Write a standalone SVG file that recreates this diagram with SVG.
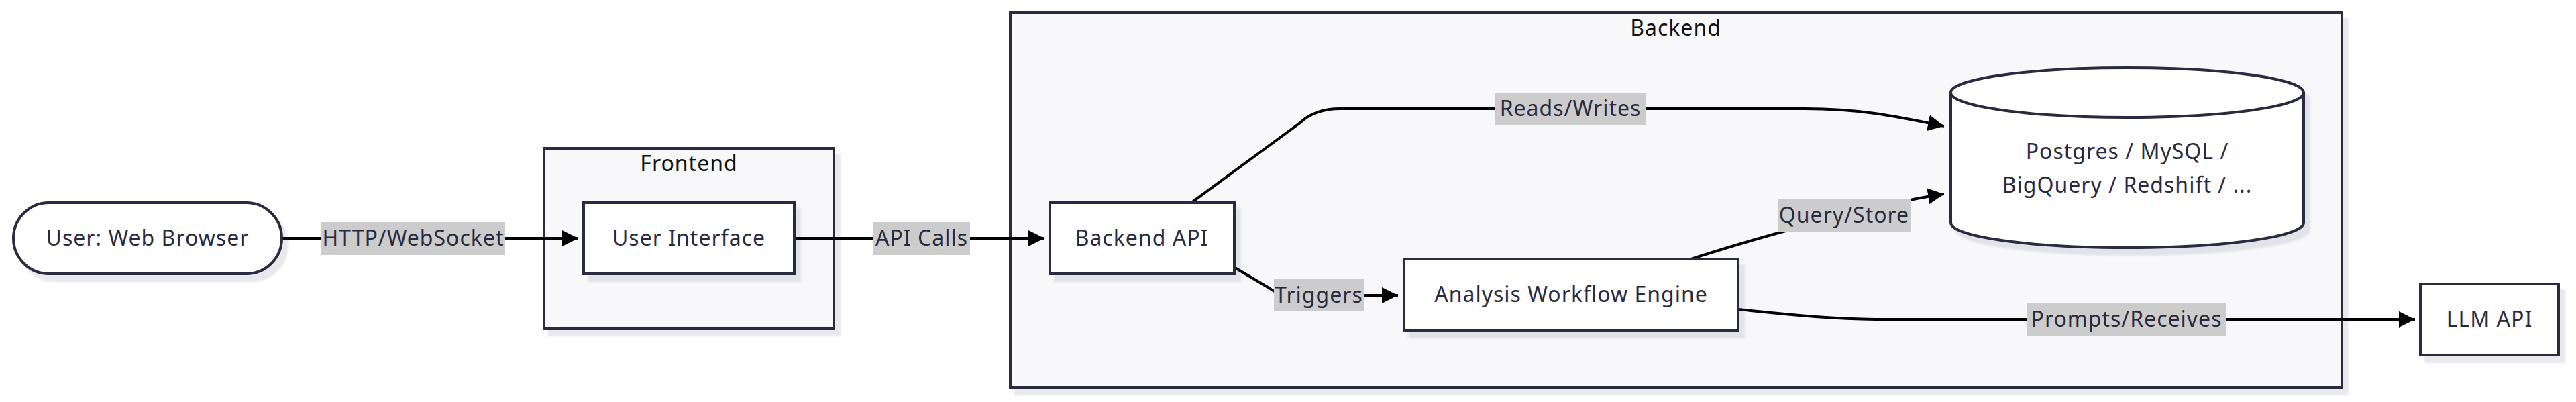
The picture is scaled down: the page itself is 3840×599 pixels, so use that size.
<svg xmlns="http://www.w3.org/2000/svg" width="3840" height="599" viewBox="0 0 3840 599">
  <style>
    .cluster { fill: #f8f8fa; stroke: #2a2a3f; stroke-width: 4; }
    .node { fill: #ffffff; stroke: #2a2a3f; stroke-width: 4; }
    .ctitle { font-family: "Noto Sans", "Open Sans", sans-serif; font-size: 32px; fill: #111111; text-anchor: middle; letter-spacing: 1px; }
    .ntext { font-family: "Noto Sans", "Open Sans", sans-serif; font-size: 32px; fill: #2a2a3f; text-anchor: middle; letter-spacing: 1px; }
    .edge { fill: none; stroke: #000000; stroke-width: 4; }
    .lblbg { fill: #cccccc; }
    .ltext { font-family: "Noto Sans", "Open Sans", sans-serif; font-size: 32px; fill: #2a2a3f; text-anchor: middle; letter-spacing: 1px; }
  </style>
  <defs>
    <filter id="shadow" x="-5%" y="-10%" width="115%" height="130%">
      <feDropShadow dx="8" dy="10" stdDeviation="1.5" flood-color="#1a1a2e" flood-opacity="0.09"/>
    </filter>
    <marker id="arrow" viewBox="0 0 10 10" refX="10" refY="5" markerUnits="userSpaceOnUse" markerWidth="24" markerHeight="29" orient="auto">
      <path d="M0,0 L10,5 L0,10 z" fill="#000000"/>
    </marker>
  </defs>
  <rect width="3840" height="599" fill="#ffffff"/>

  <g id="cluster-frontend">
    <rect class="cluster" x="811" y="221" width="432" height="268" filter="url(#shadow)"/>
    <text class="ctitle" x="1027" y="255">Frontend</text>
  </g>
  <g id="cluster-backend">
    <rect class="cluster" x="1506" y="19" width="1985" height="558" filter="url(#shadow)"/>
    <text class="ctitle" x="2498" y="53">Backend</text>
  </g>

  <g id="connectors">
    <path class="edge" d="M420,355 L862,355" marker-end="url(#arrow)"/>
    <path class="edge" d="M1184,355 L1557,355" marker-end="url(#arrow)"/>
    <path class="edge" d="M1776,302 L1938,183 Q1960,162 1998,162 L2690,162 C2770,162 2820,172 2898,188" marker-end="url(#arrow)"/>
    <path class="edge" d="M1841,399 L1890,428 Q1906,440 1926,440 L2084,440" marker-end="url(#arrow)"/>
    <path class="edge" d="M2521,386 C2600,360 2800,303 2898,289" marker-end="url(#arrow)"/>
    <path class="edge" d="M2591,461 C2660,468 2730,476 2810,476 L3600,476" marker-end="url(#arrow)"/>
    <g id="edge-labels">
      <rect class="lblbg" x="479" y="331" width="274" height="49"/>
      <text class="ltext" x="616" y="366">HTTP/WebSocket</text>
      <rect class="lblbg" x="1302" y="331" width="144" height="49"/>
      <text class="ltext" x="1374" y="366">API Calls</text>
      <rect class="lblbg" x="2229" y="138" width="224" height="49"/>
      <text class="ltext" x="2341" y="173">Reads/Writes</text>
      <rect class="lblbg" x="1899" y="416" width="135" height="48"/>
      <text class="ltext" x="1966" y="451">Triggers</text>
      <rect class="lblbg" x="2650" y="297" width="199" height="48"/>
      <text class="ltext" x="2749" y="332">Query/Store</text>
      <rect class="lblbg" x="3022" y="451" width="296" height="49"/>
      <text class="ltext" x="3170" y="487">Prompts/Receives</text>
    </g>
  </g>

  <g id="node-browser">
    <rect class="node" x="20" y="302" width="400" height="106" rx="53" ry="53" filter="url(#shadow)"/>
    <text class="ntext" x="220" y="366">User: Web Browser</text>
  </g>
  <g id="node-ui">
    <rect class="node" x="870" y="302" width="314" height="106" filter="url(#shadow)"/>
    <text class="ntext" x="1027" y="366">User Interface</text>
  </g>
  <g id="node-backend-api">
    <rect class="node" x="1565" y="302" width="275" height="106" filter="url(#shadow)"/>
    <text class="ntext" x="1702" y="366">Backend API</text>
  </g>
  <g id="node-engine">
    <rect class="node" x="2093" y="386" width="498" height="106" filter="url(#shadow)"/>
    <text class="ntext" x="2342" y="450">Analysis Workflow Engine</text>
  </g>
  <g id="node-db">
    <path class="node" d="M2908,138 A263,37 0 0 1 3434,138 L3434,332 A263,37 0 0 1 2908,332 Z" filter="url(#shadow)"/>
    <path class="node" d="M2908,138 A263,37 0 0 0 3434,138" fill="none"/>
    <text class="ntext" x="3171" y="237">Postgres / MySQL /</text>
    <text class="ntext" x="3171" y="287">BigQuery / Redshift / ...</text>
  </g>
  <g id="node-llm">
    <rect class="node" x="3608" y="423" width="206" height="106" filter="url(#shadow)"/>
    <text class="ntext" x="3711" y="487">LLM API</text>
  </g>
</svg>
